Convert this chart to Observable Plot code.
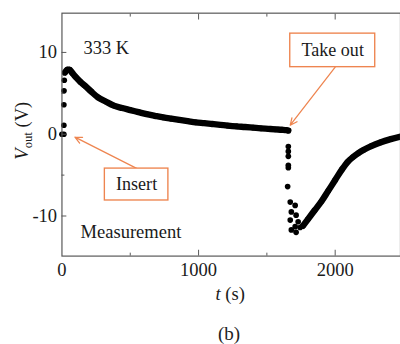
<!DOCTYPE html>
<html><head><meta charset="utf-8">
<script src="https://cdn.jsdelivr.net/npm/d3@7"></script>
<script src="https://cdn.jsdelivr.net/npm/@observablehq/plot@0.6"></script>
<style>
html,body{margin:0;padding:0;overflow:hidden;background:#fff;width:400px;height:344px}
#chart{position:relative;width:400px;height:344px;overflow:hidden}
#chart svg, #chart svg text, #chart svg g {font-family:"Liberation Serif","Times New Roman",Times,"DejaVu Serif",serif !important;}
#cap{position:absolute;left:200px;top:323px;width:58px;text-align:center;font-size:19px;font-family:"Liberation Serif","Times New Roman",Times,"DejaVu Serif",serif;color:#222;line-height:21px}
</style></head><body><div id="chart"></div><script>
// ---- data ----
const initT = [0, 14, 14, 14, 15, 17, 20];
const initV = [0, 0.0, 1.1, 3.6, 5.3, 6.6, 7.5];

const decayT = [25, 40, 55, 75, 100, 135, 170, 215, 264, 320, 380, 440, 500, 560, 620, 680, 743, 800, 860, 920, 979, 1040, 1100, 1160, 1214, 1280, 1340, 1400, 1457, 1510, 1560, 1610, 1643, 1657];
const decayV = [7.6, 7.9, 7.9, 7.5, 7.0, 6.4, 5.9, 5.2, 4.5, 4.0, 3.5, 3.2, 2.95, 2.7, 2.45, 2.25, 2.05, 1.9, 1.75, 1.6, 1.45, 1.35, 1.25, 1.15, 1.05, 0.95, 0.88, 0.8, 0.72, 0.66, 0.6, 0.55, 0.5, 0.45];

const dropT = [1657, 1657, 1657, 1657, 1657, 1652, 1671, 1707, 1679, 1714, 1671, 1729, 1707, 1679, 1743, 1714];
const dropV = [-1.5, -2.1, -2.7, -3.8, -4.1, -6.4, -8.3, -8.7, -9.5, -9.9, -10.5, -10.7, -11.3, -11.7, -11.4, -12.0];

const riseT = [1764, 1800, 1850, 1900, 1950, 2000, 2050, 2090, 2130, 2170, 2210, 2264, 2330, 2407, 2480];
const riseV = [-11.2, -10.4, -9.3, -8.2, -6.9, -5.6, -4.3, -3.4, -2.8, -2.3, -1.9, -1.45, -1.0, -0.6, -0.3];

const xTickLabels = [0, 1000, 2000];
const xMinorTicks = [500, 1500];
const xMajorTicks = [1000, 2000];
const yTickLabels = [-10, 0, 10];
const yMinorTicks = [-5, 5];

const noteText = ["333 K", "Measurement"];
const noteT = [157, 136];
const noteV = [10.5, -12.0];

const boxText = ["Insert", "Take out"];
const boxT1 = [314, 1671];
const boxT2 = [779, 2293];
const boxV1 = [-4.2, 12.3];
const boxV2 = [-8.1, 8.2];

const arrowT1 = [550, 2000];
const arrowV1 = [-4.2, 8.2];
const arrowT2 = [95, 1671];
const arrowV2 = [-0.35, 1.1];

// ---- tables ----
const rows = (ts, vs) => ts.map((t, i) => ({t, v: vs[i]}));
const init = rows(initT, initV);
const decay = rows(decayT, decayV);
const drop = rows(dropT, dropV);
const rise = rows(riseT, riseV);
const notes = noteText.map((s, i) => ({s, t: noteT[i], v: noteV[i]}));
const boxes = boxText.map((s, i) => ({s, t1: boxT1[i], t2: boxT2[i], v1: boxV1[i], v2: boxV2[i]}));
const arrows = arrowT1.map((t, i) => ({t1: t, v1: arrowV1[i], t2: arrowT2[i], v2: arrowV2[i]}));

const orange = "#ee8550";
const axisGray = "#555";
const plain = d => String(d);
const serif = '"Liberation Serif","Times New Roman",Times,"DejaVu Serif",serif';

const chart = Plot.plot({
  width: 410, height: 320,
  marginTop: 13, marginLeft: 63, marginRight: 0, marginBottom: 58,
  style: {fontFamily: serif, fontSize: "19px", color: "#1a1a1a", background: "white", overflow: "visible"},
  x: {domain: [0, 2478]},
  y: {domain: [-14.9, 14.8]},
  marks: [
    Plot.line(decay, {x: "t", y: "v", stroke: "black", strokeWidth: 6.5, strokeLinecap: "round", strokeLinejoin: "round", curve: "monotone-x"}),
    Plot.line(rise, {x: "t", y: "v", stroke: "black", strokeWidth: 6.5, strokeLinecap: "round", strokeLinejoin: "round", curve: "monotone-x"}),
    Plot.dot([...init, ...decay, ...drop, ...rise], {x: "t", y: "v", r: 2.9, fill: "black"}),
    Plot.arrow(arrows, {x1: "t1", y1: "v1", x2: "t2", y2: "v2", stroke: orange, strokeWidth: 1.3, headLength: 9, headAngle: 50}),
    Plot.rect(boxes, {x1: "t1", x2: "t2", y1: "v1", y2: "v2", fill: "white", stroke: orange, strokeWidth: 1.4}),
    Plot.text(boxes, {x: d => (d.t1 + d.t2) / 2, y: d => (d.v1 + d.v2) / 2, text: "s", fontSize: 18.5, fontFamily: serif, fill: "#1a1a1a"}),
    Plot.text(notes, {x: "t", y: "v", text: "s", textAnchor: "start", fontSize: 19, fontFamily: serif, fill: "#1a1a1a"}),
    Plot.frame({stroke: axisGray, strokeWidth: 1.2}),
    Plot.axisY({ticks: yTickLabels, tickSize: 0, tickPadding: 5, tickFormat: plain, label: null, fill: "#1a1a1a", fontSize: 19, fontFamily: serif}),
    Plot.axisY({ticks: yTickLabels, tickSize: -5, tickFormat: () => "", label: null, stroke: axisGray}),
    Plot.axisY({ticks: yMinorTicks, tickSize: -3, tickFormat: () => "", label: null, stroke: axisGray}),
    Plot.axisX({ticks: xTickLabels, tickSize: 0, tickPadding: 7, tickFormat: plain, label: null, fill: "#1a1a1a", fontSize: 19, fontFamily: serif}),
    Plot.axisX({ticks: xMajorTicks, tickSize: -6, tickFormat: () => "", label: null, stroke: axisGray}),
    Plot.axisX({ticks: xMinorTicks, tickSize: -3, tickFormat: () => "", label: null, stroke: axisGray}),
    Plot.axisX({anchor: "top", ticks: xMajorTicks, tickSize: -6, tickFormat: () => "", label: null, stroke: axisGray}),
    Plot.axisX({anchor: "top", ticks: xMinorTicks, tickSize: -3, tickFormat: () => "", label: null, stroke: axisGray})
  ]
});

const svg = d3.select(chart);
svg.selectAll("text").attr("font-family", serif).style("font-family", serif);
const yl = svg.append("text")
  .attr("transform", "translate(29,134) rotate(-90)")
  .attr("text-anchor", "middle")
  .attr("fill", "#1a1a1a")
  .style("font-family", serif)
  .style("font-size", "19px");
yl.append("tspan").attr("font-style", "italic").text("V");
yl.append("tspan").attr("dy", 4).style("font-size", "13px").text("out");
yl.append("tspan").attr("dy", -4).text(" (V)");

const xl = svg.append("text")
  .attr("x", 236).attr("y", 308)
  .attr("text-anchor", "middle")
  .attr("fill", "#1a1a1a")
  .style("font-family", serif)
  .style("font-size", "19px");
xl.append("tspan").attr("font-style", "italic").text("t");
xl.append("tspan").text(" (s)");

const host = document.getElementById("chart");
host.appendChild(chart);
const cap = document.createElement("div");
cap.id = "cap";
cap.textContent = "(b)";
host.appendChild(cap);
</script></body></html>
